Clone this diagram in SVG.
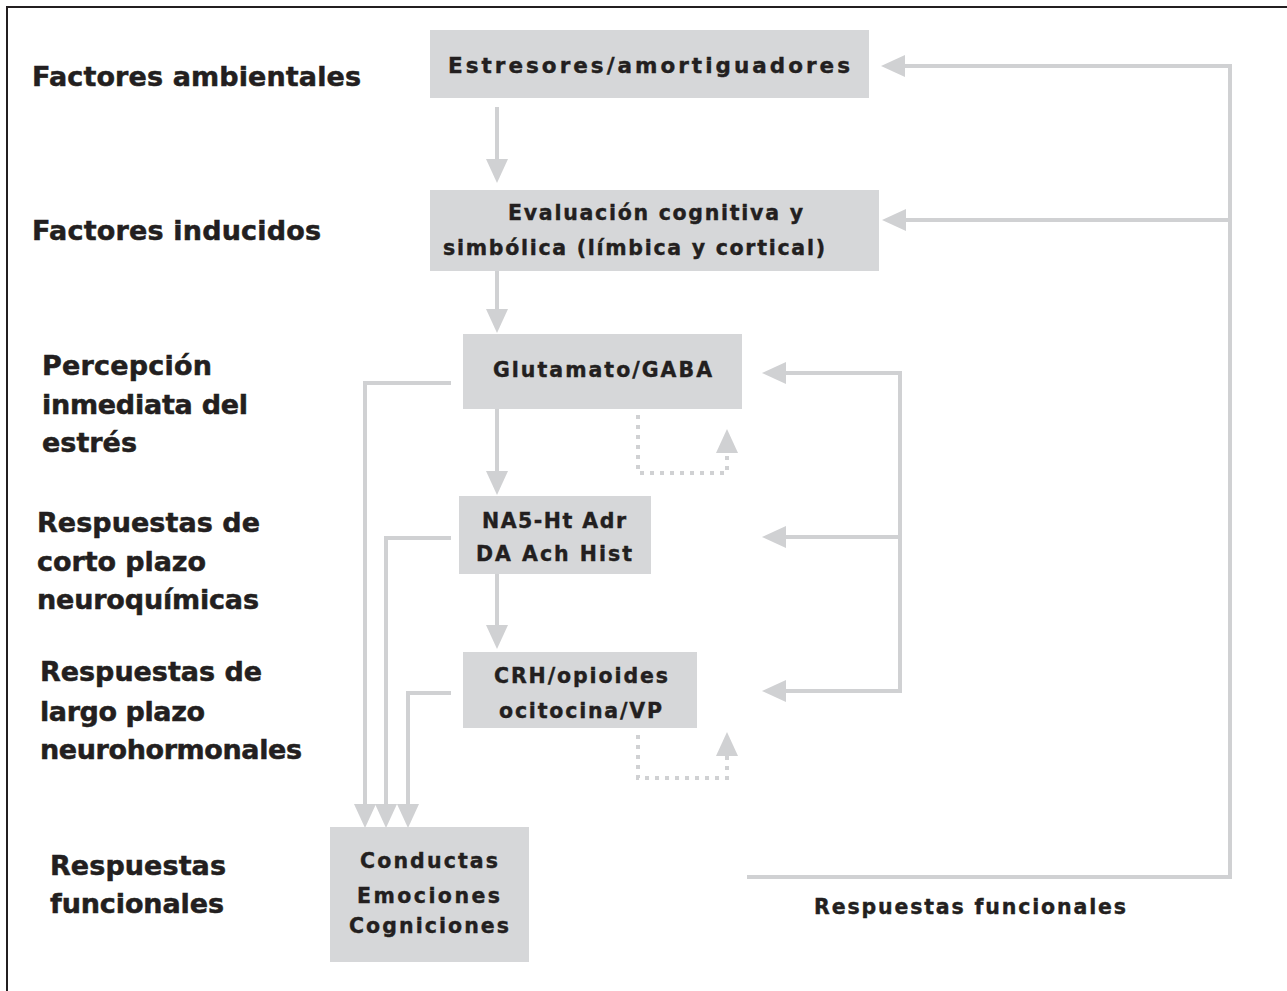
<svg xmlns="http://www.w3.org/2000/svg" width="1287" height="991" viewBox="0 0 1287 991">
<style>
.lbl{font-family:"DejaVu Sans","Liberation Sans",sans-serif;font-weight:bold;font-size:27px;fill:#231f20;stroke:#231f20;stroke-width:0.5}
.bt{font-family:"DejaVu Sans","Liberation Sans",sans-serif;font-weight:bold;font-size:20.5px;fill:#231f20;stroke:#231f20;stroke-width:0.4}
.box{fill:#d6d7d9}
.ln{fill:none;stroke:#d0d1d3;stroke-width:4}
.dot{fill:none;stroke:#d0d1d3;stroke-width:4;stroke-dasharray:4 6}
</style>
<defs>
<marker id="ah" markerUnits="userSpaceOnUse" markerWidth="24" markerHeight="22" viewBox="0 0 24 22" refX="1" refY="11" orient="auto">
<path d="M0,0 L24,11 L0,22 z" fill="#d0d1d3"/>
</marker>
</defs>
<rect x="7" y="7" width="1300" height="1000" fill="#ffffff" stroke="#231f20" stroke-width="2"/>

<g id="labels">
<text class="lbl" x="32" y="86" textLength="329" lengthAdjust="spacing">Factores ambientales</text>
<text class="lbl" x="32" y="240" textLength="289" lengthAdjust="spacing">Factores inducidos</text>
<text class="lbl" x="42" y="375" textLength="170" lengthAdjust="spacing">Percepción</text>
<text class="lbl" x="42" y="414" textLength="206" lengthAdjust="spacing">inmediata del</text>
<text class="lbl" x="42" y="452" textLength="95" lengthAdjust="spacing">estrés</text>
<text class="lbl" x="37" y="532" textLength="223" lengthAdjust="spacing">Respuestas de</text>
<text class="lbl" x="37" y="571" textLength="169" lengthAdjust="spacing">corto plazo</text>
<text class="lbl" x="37" y="609" textLength="222" lengthAdjust="spacing">neuroquímicas</text>
<text class="lbl" x="40" y="681" textLength="222" lengthAdjust="spacing">Respuestas de</text>
<text class="lbl" x="40" y="721" textLength="165" lengthAdjust="spacing">largo plazo</text>
<text class="lbl" x="40" y="759" textLength="262" lengthAdjust="spacing">neurohormonales</text>
<text class="lbl" x="50" y="875" textLength="176" lengthAdjust="spacing">Respuestas</text>
<text class="lbl" x="50" y="913" textLength="174" lengthAdjust="spacing">funcionales</text>
</g>

<g id="connectors">
<path class="ln" d="M497,107 V160" marker-end="url(#ah)"/>
<path class="ln" d="M497,268 V310" marker-end="url(#ah)"/>
<path class="ln" d="M497,409 V472" marker-end="url(#ah)"/>
<path class="ln" d="M497,574 V626" marker-end="url(#ah)"/>
<path class="ln" d="M451,383 H365 V805" marker-end="url(#ah)"/>
<path class="ln" d="M451,538 H386 V805" marker-end="url(#ah)"/>
<path class="ln" d="M451,693 H408 V805" marker-end="url(#ah)"/>
<path class="dot" d="M638,415 V473 H727 V452" marker-end="url(#ah)"/>
<path class="dot" d="M638,735 V778 H727 V755" marker-end="url(#ah)"/>
<path class="ln" d="M747,877 H1230 V66 H904" marker-end="url(#ah)"/>
<path class="ln" d="M1230,220 H905" marker-end="url(#ah)"/>
<path class="ln" d="M900,373 V691"/>
<path class="ln" d="M902,373 H785" marker-end="url(#ah)"/>
<path class="ln" d="M900,537 H785" marker-end="url(#ah)"/>
<path class="ln" d="M902,691 H785" marker-end="url(#ah)"/>
</g>

<g id="n-estresores">
<rect class="box" x="430" y="30" width="439" height="68"/>
<text class="bt" x="448" y="73" style="font-size:21.5px" textLength="402" lengthAdjust="spacing">Estresores/amortiguadores</text>
</g>
<g id="n-evaluacion">
<rect class="box" x="430" y="190" width="449" height="81"/>
<text class="bt" x="508" y="220" textLength="295" lengthAdjust="spacing">Evaluación cognitiva y</text>
<text class="bt" x="443" y="255" textLength="382" lengthAdjust="spacing">simbólica (límbica y cortical)</text>
</g>
<g id="n-glutamato">
<rect class="box" x="463" y="334" width="279" height="75"/>
<text class="bt" x="493" y="377" textLength="219" lengthAdjust="spacing">Glutamato/GABA</text>
</g>
<g id="n-na">
<rect class="box" x="459" y="496" width="192" height="78"/>
<text class="bt" x="482" y="528" textLength="144" lengthAdjust="spacing">NA5-Ht Adr</text>
<text class="bt" x="476" y="561" textLength="156" lengthAdjust="spacing">DA Ach Hist</text>
</g>
<g id="n-crh">
<rect class="box" x="463" y="652" width="234" height="76"/>
<text class="bt" x="494" y="683" textLength="174" lengthAdjust="spacing">CRH/opioides</text>
<text class="bt" x="499" y="718" textLength="163" lengthAdjust="spacing">ocitocina/VP</text>
</g>
<g id="n-conductas">
<rect class="box" x="330" y="827" width="199" height="135"/>
<text class="bt" x="360" y="868" textLength="138" lengthAdjust="spacing">Conductas</text>
<text class="bt" x="357" y="903" textLength="143" lengthAdjust="spacing">Emociones</text>
<text class="bt" x="349" y="933" textLength="160" lengthAdjust="spacing">Cogniciones</text>
</g>
<g id="n-respuestas">
<text class="bt" x="814" y="914" textLength="312" lengthAdjust="spacing">Respuestas funcionales</text>
</g>
</svg>
